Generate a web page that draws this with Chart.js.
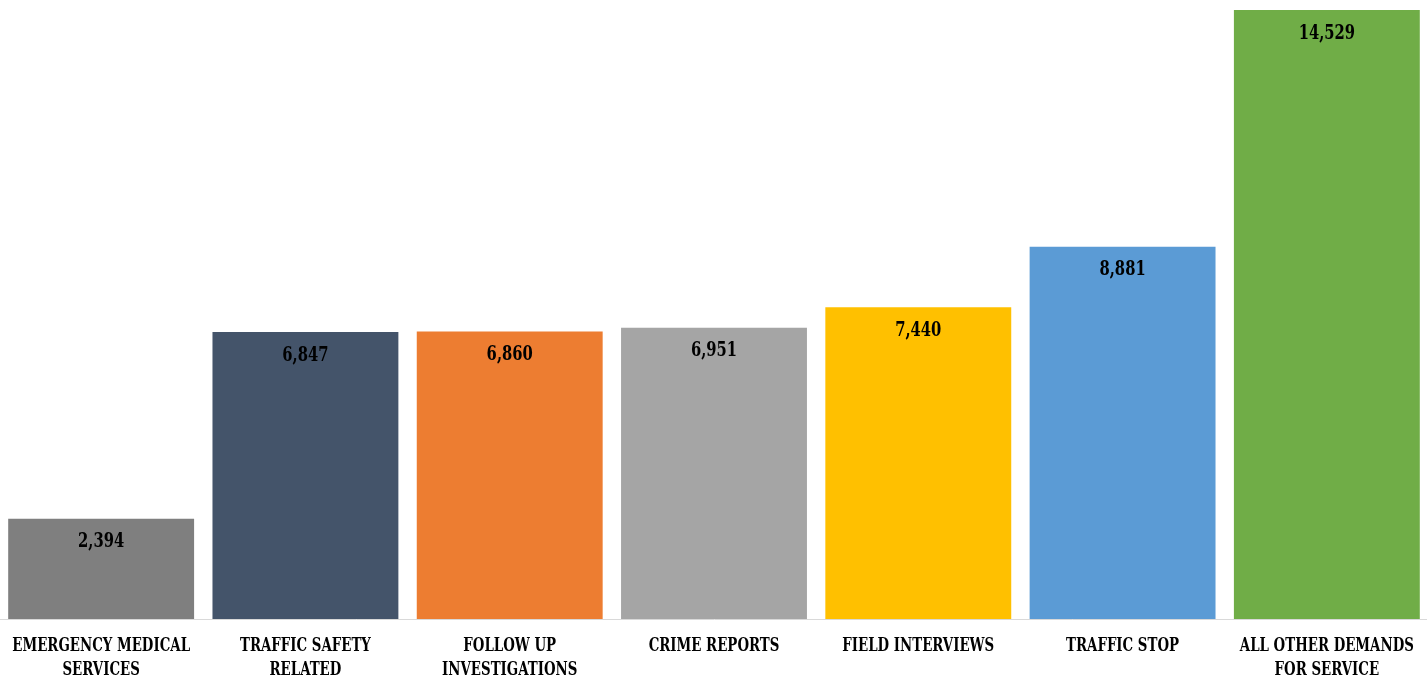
<!DOCTYPE html>
<html>
<head>
<meta charset="utf-8">
<script src="https://cdn.jsdelivr.net/npm/chart.js@4/dist/chart.umd.min.js"></script>
<style>
html,body{margin:0;padding:0;background:#fff;overflow:hidden;}
#wrap{width:1427px;height:676px;position:relative;overflow:hidden;}
#c{position:absolute;left:-1px;top:0;}
</style>
</head>
<body>
<div id="wrap"><canvas id="c" width="1430" height="676"></canvas></div>
<script>
const categories = [
  ["EMERGENCY MEDICAL","SERVICES"],
  ["TRAFFIC SAFETY","RELATED"],
  ["FOLLOW UP","INVESTIGATIONS"],
  ["CRIME REPORTS"],
  ["FIELD INTERVIEWS"],
  ["TRAFFIC STOP"],
  ["ALL OTHER DEMANDS","FOR SERVICE"]
];
const values = [2394, 6847, 6860, 6951, 7440, 8881, 14529];
const colors = ["#7f7f7f","#44546a","#ed7d31","#a5a5a5","#ffc000","#5b9bd5","#70ad47"];

const FONT = "'DejaVu Serif Condensed', 'DejaVu Serif', serif";

function condensedText(ctx, text, x, y, sx) {
  ctx.save();
  ctx.translate(x, y);
  ctx.scale(sx, 1);
  ctx.fillText(text, 0, 0);
  ctx.restore();
}

const textPlugin = {
  id: 'textPlugin',
  afterDraw(chart) {
    const ctx = chart.ctx;
    const meta = chart.getDatasetMeta(0);
    const xs = chart.scales.x;
    ctx.save();
    ctx.fillStyle = "#000";
    ctx.textAlign = "center";
    ctx.textBaseline = "middle";
    ctx.font = "bold 20px " + FONT;
    meta.data.forEach((bar, i) => {
      condensedText(ctx, values[i].toLocaleString('en-US'), bar.x, bar.y + 23.5, 0.82);
    });
    ctx.font = "bold 19px " + FONT;
    const base = chart.chartArea.bottom;
    categories.forEach((lines, i) => {
      const x = xs.getPixelForValue(i);
      lines.forEach((ln, j) => {
        condensedText(ctx, ln, x, base + 27 + j * 24, 0.78);
      });
    });
    ctx.restore();
  }
};

new Chart(document.getElementById('c'), {
  type: 'bar',
  data: {
    labels: categories,
    datasets: [{
      data: values,
      backgroundColor: colors,
      borderWidth: 0,
      barPercentage: 0.91,
      categoryPercentage: 1.0
    }]
  },
  options: {
    responsive: false,
    animation: false,
    layout: { padding: { top: 10, left: 0, right: 0, bottom: 57 } },
    plugins: { legend: { display: false }, tooltip: { enabled: false } },
    scales: {
      x: {
        grid: { display: false, drawTicks: false },
        border: { display: true, color: '#d9d9d9', width: 1 },
        ticks: { display: false }
      },
      y: {
        display: false,
        min: 0,
        max: Math.max(...values)
      }
    }
  },
  plugins: [textPlugin]
});
</script>
</body>
</html>
